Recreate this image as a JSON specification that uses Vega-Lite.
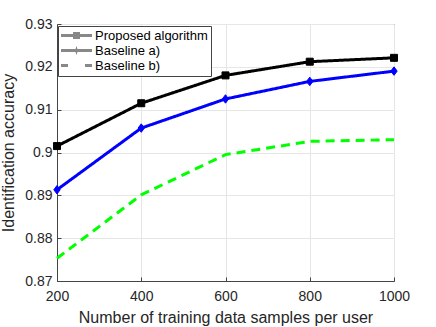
{
  "$schema": "https://vega.github.io/schema/vega-lite/v6.json",
  "autosize": {"type": "none"},
  "width": 337,
  "height": 257,
  "padding": {"left": 57, "top": 24, "right": 42, "bottom": 46},
  "background": "white",
  "config": {
    "font": "Liberation Sans",
    "view": {"stroke": "#444444", "strokeWidth": 1},
    "axis": {
      "labelFont": "Liberation Sans",
      "titleFont": "Liberation Sans",
      "labelFontSize": 14,
      "titleFontSize": 16,
      "titleFontWeight": "normal",
      "labelColor": "#262626",
      "titleColor": "#262626",
      "domainColor": "#444444",
      "tickColor": "#444444",
      "gridColor": "#e6e6e6",
      "grid": true,
      "labelFlush": false
    },
    "legend": {
      "orient": "none", "legendX": 1, "legendY": 2, "title": null,
      "symbolSize": 100, "symbolStrokeWidth": 1, "symbolOffset": 9, "symbolOpacity": 1,
      "labelFont": "Liberation Sans", "labelFontSize": 13, "labelColor": "#000000",
      "labelOffset": 12, "padding": 3, "rowPadding": 1,
      "strokeColor": "#444444", "fillColor": "white"
    }
  },
  "data": {
    "values": [
      {"n": 200, "acc": 0.9015, "series": "Proposed algorithm"},
      {"n": 400, "acc": 0.9115, "series": "Proposed algorithm"},
      {"n": 600, "acc": 0.9180, "series": "Proposed algorithm"},
      {"n": 800, "acc": 0.9212, "series": "Proposed algorithm"},
      {"n": 1000, "acc": 0.9221, "series": "Proposed algorithm"},
      {"n": 200, "acc": 0.8913, "series": "Baseline a)"},
      {"n": 400, "acc": 0.9057, "series": "Baseline a)"},
      {"n": 600, "acc": 0.9125, "series": "Baseline a)"},
      {"n": 800, "acc": 0.9166, "series": "Baseline a)"},
      {"n": 1000, "acc": 0.9190, "series": "Baseline a)"},
      {"n": 200, "acc": 0.8753, "series": "Baseline b)"},
      {"n": 400, "acc": 0.8901, "series": "Baseline b)"},
      {"n": 600, "acc": 0.8995, "series": "Baseline b)"},
      {"n": 800, "acc": 0.9026, "series": "Baseline b)"},
      {"n": 1000, "acc": 0.9030, "series": "Baseline b)"}
    ]
  },
  "encoding": {
    "x": {
      "field": "n", "type": "quantitative",
      "scale": {"domain": [200, 1000], "nice": false, "zero": false},
      "axis": {"values": [200, 400, 600, 800, 1000], "title": "Number of training data samples per user", "tickSize": -4, "labelPadding": 12, "titlePadding": 6, "format": "d"}
    },
    "y": {
      "field": "acc", "type": "quantitative",
      "scale": {"domain": [0.87, 0.93], "nice": false, "zero": false},
      "axis": {"values": [0.87, 0.88, 0.89, 0.9, 0.91, 0.92, 0.93], "title": "Identification accuracy", "tickSize": -4, "labelPadding": 9, "titlePadding": 8, "labelExpr": "datum.value == 0.9 ? '0.9' : format(datum.value, '.2f')"}
    }
  },
  "layer": [
    {
      "mark": {"type": "line", "strokeWidth": 3},
      "encoding": {
        "stroke": {
          "field": "series", "type": "nominal", "legend": null,
          "scale": {"domain": ["Proposed algorithm", "Baseline a)", "Baseline b)"], "range": ["#000000", "#0000ff", "#00ff00"]}
        },
        "strokeDash": {
          "field": "series", "type": "nominal", "legend": null,
          "scale": {"domain": ["Proposed algorithm", "Baseline a)", "Baseline b)"], "range": [[1, 0], [1, 0], [9, 6]]}
        }
      }
    },
    {
      "transform": [{"filter": "datum.series != 'Baseline b)'"}],
      "mark": {"type": "point", "filled": true, "strokeWidth": 1, "opacity": 1},
      "encoding": {
        "fill": {
          "field": "series", "type": "nominal", "legend": null,
          "scale": {"domain": ["Proposed algorithm", "Baseline a)", "Baseline b)"], "range": ["#000000", "#0000ff", "#00ff00"]}
        },
        "stroke": {
          "field": "series", "type": "nominal", "legend": null,
          "scale": {"domain": ["Proposed algorithm", "Baseline a)", "Baseline b)"], "range": ["#000000", "#0000ff", "#00ff00"]}
        },
        "shape": {
          "field": "series", "type": "nominal", "legend": null,
          "scale": {"domain": ["Proposed algorithm", "Baseline a)"], "range": ["square", "M0,-1L0.75,0L0,1L-0.75,0Z"]}
        },
        "size": {
          "field": "series", "type": "nominal", "legend": null,
          "scale": {"domain": ["Proposed algorithm", "Baseline a)"], "range": [49, 72]}
        }
      }
    },
    {
      "transform": [{"filter": "false"}],
      "mark": {"type": "point", "filled": false, "opacity": 1, "strokeWidth": 1},
      "encoding": {
        "stroke": {
          "field": "series", "type": "nominal",
          "scale": {"domain": ["Proposed algorithm", "Baseline a)", "Baseline b)"], "range": ["#000000", "#0000ff", "#00ff00"]}
        },
        "shape": {
          "field": "series", "type": "nominal",
          "scale": {"domain": ["Proposed algorithm", "Baseline a)", "Baseline b)"], "range": [
            "M-3.1,-0.2H3.1M-3.1,0H3.1M-3.1,0.2H3.1M-0.7,-0.6H0.7M-0.7,-0.4H0.7M-0.7,0.4H0.7M-0.7,0.6H0.7",
            "M-3.1,-0.2H3.1M-3.1,0H3.1M-3.1,0.2H3.1M-0.04,-0.8H0.04M-0.1,-0.6H0.1M-0.16,-0.4H0.16M-0.16,0.4H0.16M-0.1,0.6H0.1M-0.04,0.8H0.04",
            "M-3.1,-0.2H-1.7M-3.1,0H-1.7M-3.1,0.2H-1.7M1.7,-0.2H3.1M1.7,0H3.1M1.7,0.2H3.1"
          ]}
        }
      }
    }
  ],
  "resolve": {"scale": {"shape": "independent", "size": "independent"}}
}
